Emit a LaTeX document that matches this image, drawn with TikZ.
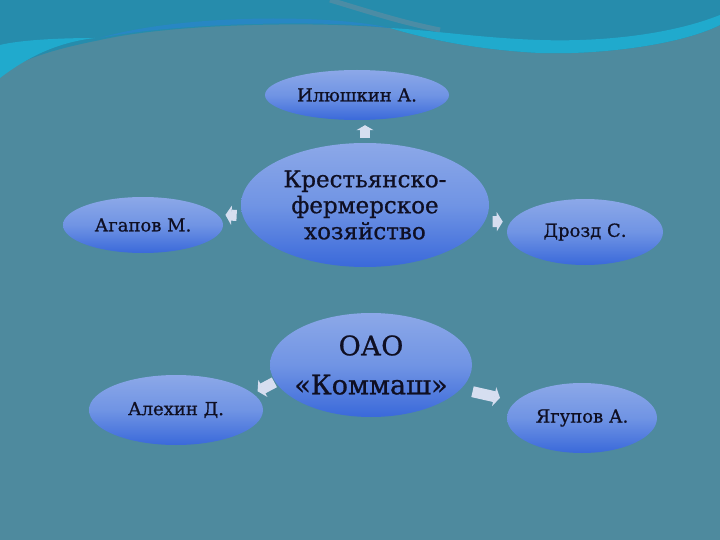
\documentclass[tikz,border=0pt]{standalone}
\usepackage{fontspec}
\setmainfont{DejaVu Serif}[BoldFont={DejaVu Serif}, BoldFeatures={FakeBold=0.8}]
\usetikzlibrary{arrows.meta,shapes.geometric}
\definecolor{bg}{RGB}{78,138,158}
\definecolor{teal}{RGB}{38,140,172}
\definecolor{wave}{RGB}{32,170,205}
\definecolor{waveblue}{RGB}{40,135,195}
\definecolor{stripe}{RGB}{75,140,165}
\definecolor{elltop}{RGB}{140,168,232}
\definecolor{ellmid}{RGB}{112,148,228}
\definecolor{ellbot}{RGB}{58,105,218}
\definecolor{arr}{RGB}{214,222,240}
\definecolor{ink}{RGB}{15,15,35}
\tikzset{
  person/.style={ellipse, inner sep=0pt, top color=elltop, bottom color=ellbot, middle color=ellmid, text=ink},
  conn/.style={-{Triangle[width=19pt,length=6pt]}, line width=11pt, arr}
}
\begin{document}
\begin{tikzpicture}[x=1pt,y=-1pt]
\fill[bg] (0,0) rectangle (720,540);
\useasboundingbox (0,0) rectangle (720,540);
% waves at the top
\fill[teal] (0,0) -- (720,0) -- (720,25) .. controls (680,45) and (600,55) .. (540,53)
  .. controls (480,50) and (430,40) .. (390,28) .. controls (330,22) and (180,22) .. (100,40)
  .. controls (50,50) and (20,60) .. (0,75) -- cycle;
\fill[wave] (0,78) .. controls (30,55) and (60,42) .. (95,38) .. controls (60,38) and (20,40) .. (0,45) -- cycle;
\fill[waveblue] (100,38) .. controls (180,22) and (330,20) .. (390,28) .. controls (330,14) and (180,14) .. (100,38) -- cycle;
\fill[wave] (390,28) .. controls (430,40) and (480,50) .. (540,53) .. controls (600,55) and (680,45) .. (720,25)
  -- (720,15) .. controls (670,35) and (600,42) .. (540,40) .. controls (480,38) and (430,30) .. (390,28) -- cycle;
\draw[stripe, line width=5pt] (330,0) .. controls (370,12) and (400,22) .. (440,30);

\node[person, minimum width=184pt, minimum height=50pt, font=\bfseries\fontsize{18}{20}\selectfont] (ilyu) at (357,95) {Илюшкин А.};
\node[person, minimum width=248pt, minimum height=124pt, font=\bfseries\fontsize{23}{26}\selectfont, align=center] (kfh) at (365,205) {Крестьянско-\\фермерское\\хозяйство};
\node[person, minimum width=160pt, minimum height=56pt, font=\bfseries\fontsize{18}{20}\selectfont] (agap) at (143,225) {Агапов М.};
\node[person, minimum width=156pt, minimum height=66pt, font=\bfseries\fontsize{18}{20}\selectfont] (drozd) at (585,232) {Дрозд С.};
\node[person, minimum width=202pt, minimum height=104pt, inner xsep=-8pt, font=\bfseries\fontsize{27}{39}\selectfont, align=center] (oao) at (371,365) {ОАО\\«Коммаш»};
\node[person, minimum width=174pt, minimum height=70pt, font=\bfseries\fontsize{18}{20}\selectfont] (alex) at (176,410) {Алехин Д.};
\node[person, minimum width=150pt, minimum height=70pt, font=\bfseries\fontsize{18}{20}\selectfont] (yag) at (582,418) {Ягупов А.};

\draw[conn, line width=10pt, -{Triangle[width=17pt,length=5pt]}, shorten <=5pt, shorten >=5pt] (kfh.north) -- (kfh.north |- ilyu.south);
\draw[conn, shorten <=6pt, shorten >=8pt] (kfh.185) -- (agap.8);
\draw[conn, shorten <=8pt, shorten >=8pt] (kfh.-8) -- (drozd.172);
\draw[conn, shorten <=1pt, shorten >=5pt] (oao.190) -- (alex.12);
\draw[conn, shorten <=12pt, shorten >=16pt] (oao.-15) -- (yag.166);
\end{tikzpicture}
\end{document}
